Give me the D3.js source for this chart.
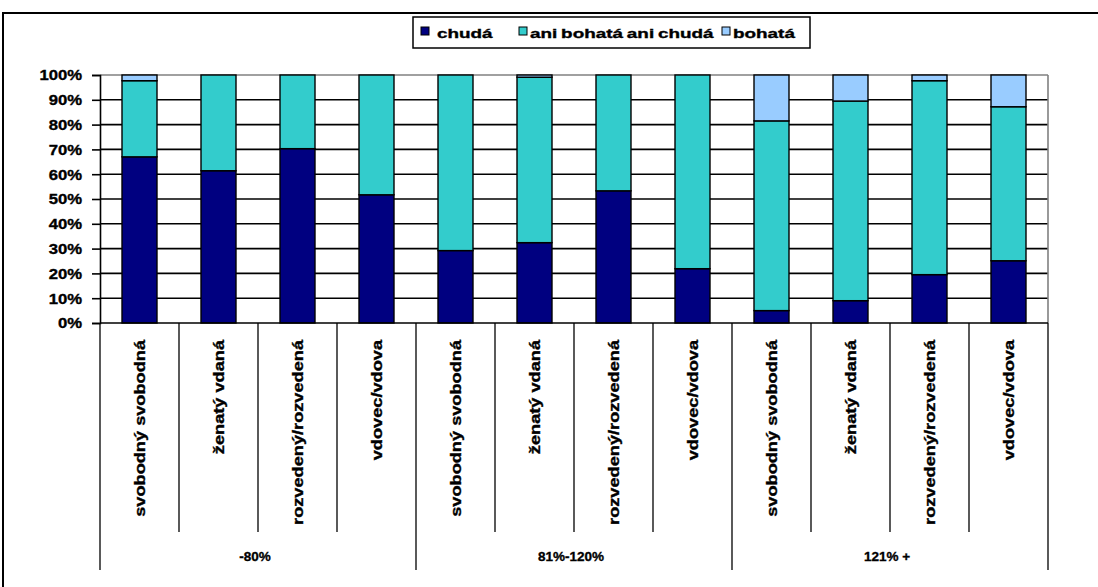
<!DOCTYPE html>
<html><head><meta charset="utf-8">
<script src="https://cdn.jsdelivr.net/npm/d3@7"></script>
<style>
body{margin:0;background:#fff;}
svg{display:block;font-family:Arial,"Liberation Sans",sans-serif;font-weight:bold;}
svg text{fill:#000;stroke:#000;stroke-width:0.35px;}
</style></head>
<body><svg id="c" width="1098" height="587"></svg>
<script>
const groups = ["-80%", "81%-120%", "121% +"];
const statuses = ["svobodný svobodná", "ženatý vdaná", "rozvedený/rozvedená", "vdovec/vdova"];
const seriesNames = ["chudá", "ani bohatá ani chudá", "bohatá"];
const chuda  = [67.0, 61.4, 70.3, 51.7, 29.2, 32.4, 53.3, 21.9, 5.0, 9.0, 19.5, 25.1];
const ani    = [30.7, 38.6, 29.7, 48.3, 70.8, 66.7, 46.7, 78.1, 76.5, 80.5, 78.2, 62.1];
const bohata = [2.3, 0, 0, 0, 0, 0.9, 0, 0, 18.5, 10.5, 2.3, 12.8];
const yTicks = [0, 10, 20, 30, 40, 50, 60, 70, 80, 90, 100];
const colors = ["#000080", "#33CCCC", "#99CCFF"];

const rows = [];
groups.forEach((g, gi) => statuses.forEach((s, si) => {
  const i = gi * statuses.length + si;
  rows.push({key: g + "|" + s, group: g, status: s, "chudá": chuda[i], "ani bohatá ani chudá": ani[i], "bohatá": bohata[i]});
}));

const svg = d3.select("#c");
const L = 100, R = 1048, T = 75, B = 323;

// outer border
svg.append("rect").attr("x", 3).attr("y", 13).attr("width", 1200).attr("height", 700)
  .attr("fill", "none").attr("stroke", "#000").attr("stroke-width", 2);

const x = d3.scaleBand().domain(rows.map(d => d.key)).range([L, R])
  .paddingInner(0.557).paddingOuter(0.2785);
const y = d3.scaleLinear().domain([0, 100]).range([B, T]);

// gridlines
svg.append("g").selectAll("line").data(yTicks.filter(t => t > 0)).join("line")
  .attr("x1", L).attr("x2", R).attr("y1", d => y(d)).attr("y2", d => y(d))
  .attr("stroke", d => d === 100 ? "#808080" : "#000").attr("stroke-width", 1.6);
svg.append("line").attr("x1", R).attr("x2", R).attr("y1", T).attr("y2", B)
  .attr("stroke", "#808080").attr("stroke-width", 1.6);

// bars
const series = d3.stack().keys(seriesNames)(rows);
svg.append("g").selectAll("g").data(series).join("g")
  .attr("fill", (d, i) => colors[i])
  .selectAll("rect").data(d => d.filter(p => p[1] - p[0] > 0)).join("rect")
  .attr("x", d => x(d.data.key)).attr("width", x.bandwidth())
  .attr("y", d => y(d[1])).attr("height", d => y(d[0]) - y(d[1]))
  .attr("stroke", "#000").attr("stroke-width", 1.4);

// y axis
const ya = svg.append("g").attr("transform", `translate(${L},0)`)
  .call(d3.axisLeft(y).tickValues(yTicks).tickFormat("").tickSize(8));
ya.select(".domain").attr("stroke", "#000").attr("stroke-width", 1.6);
ya.selectAll(".tick line").attr("stroke", "#000").attr("stroke-width", 1.6);
svg.append("g").selectAll("text").data(yTicks).join("text")
  .attr("transform", d => `translate(82,${y(d) + 5.3}) scale(1.15,1)`)
  .attr("text-anchor", "end").attr("font-size", 14.5)
  .text(d => d + "%");

// x axis multi-level
svg.append("line").attr("x1", L).attr("x2", R).attr("y1", B).attr("y2", B)
  .attr("stroke", "#000").attr("stroke-width", 1.6);
const step = x.step();
svg.append("g").selectAll("line").data(d3.range(rows.length + 1)).join("line")
  .attr("x1", i => L + i * step).attr("x2", i => L + i * step)
  .attr("y1", B).attr("y2", i => (i % statuses.length === 0) ? 570 : 532)
  .attr("stroke", "#000").attr("stroke-width", 1.3);

svg.append("g").selectAll("text").data(rows).join("text")
  .attr("transform", d => `translate(${x(d.key) + x.bandwidth() / 2 + 5.5},340) rotate(-90) scale(1.3,1)`)
  .attr("text-anchor", "end").attr("font-size", 14)
  .text(d => d.status);

svg.append("g").selectAll("text").data(groups).join("text")
  .attr("x", (g, gi) => L + (gi * statuses.length + statuses.length / 2) * step - 3)
  .attr("y", 561).attr("text-anchor", "middle").attr("font-size", 13.5)
  .text(d => d);

// legend
svg.append("rect").attr("x", 413).attr("y", 17).attr("width", 397).attr("height", 31)
  .attr("fill", "#fff").attr("stroke", "#000").attr("stroke-width", 1.5);
const legSq = [421, 519, 722];
const legTx = [437, 530, 733];
const lg = svg.append("g").selectAll("g").data(seriesNames).join("g");
lg.append("rect").attr("x", (d, i) => legSq[i]).attr("y", 27).attr("width", 8).attr("height", 8)
  .attr("fill", (d, i) => colors[i]).attr("stroke", "#000").attr("stroke-width", 1);
lg.append("text").attr("transform", (d, i) => `translate(${legTx[i]},37.5) scale(1.4,1)`)
  .attr("font-size", 13.5).attr("word-spacing", "-1px").text(d => d);
</script></body></html>
